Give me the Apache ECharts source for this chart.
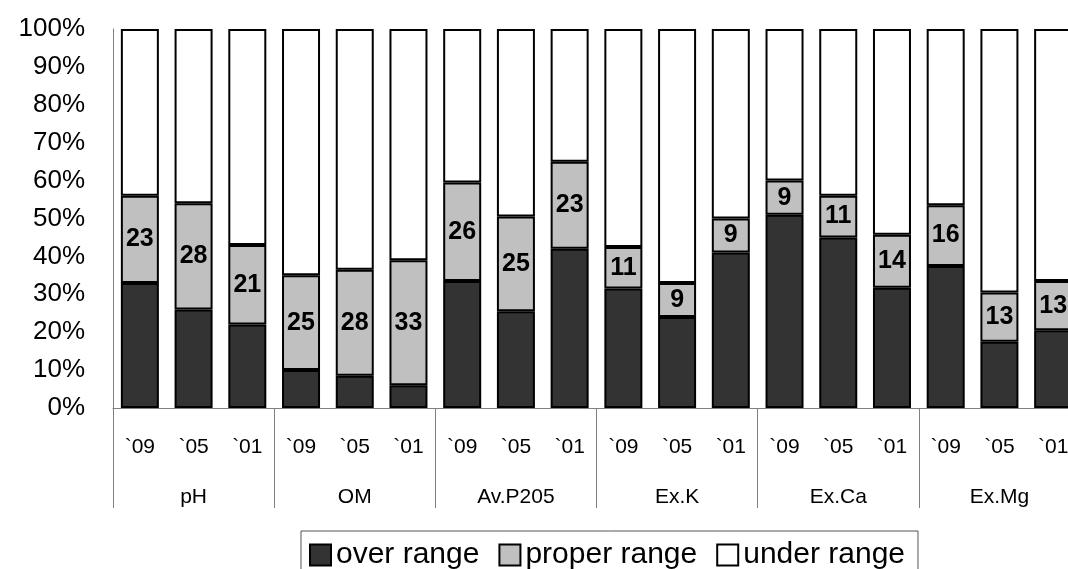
<!DOCTYPE html>
<html>
<head>
<meta charset="utf-8">
<script src="https://cdn.jsdelivr.net/npm/echarts@6/dist/echarts.min.js"></script>
<style>
  html, body { margin: 0; padding: 0; background: #fff; }
  #chart { width: 1068px; height: 569px; }
</style>
</head>
<body>
<div id="chart"></div>
<script>
// Soil property groups and survey years (three bars per group)
const groups = ['pH', 'OM', 'Av.P205', 'Ex.K', 'Ex.Ca', 'Ex.Mg'];
const years = ['`09', '`05', '`01'];

// Share of samples (%) in each range, one value per bar, group by group
const overRange   = [33, 26, 22, 10, 8.5, 6, 33.5, 25.5, 42, 31.5, 24, 41, 51, 45, 31.7, 37.5, 17.5, 20.5];
const properRange = [23, 28, 21, 25, 28, 33, 26, 25, 23, 11, 9, 9, 9, 11, 14, 16, 13, 13];
const underRange  = [44, 46, 57, 65, 63.5, 61, 40.5, 49.5, 35, 57.5, 67, 50, 40, 44, 54.3, 46.5, 69.5, 66.5];

const yTicks = [0, 10, 20, 30, 40, 50, 60, 70, 80, 90, 100];

// One category per bar: the year labels repeat for every group
const barLabels = [];
groups.forEach(() => years.forEach(y => barLabels.push(y)));

const FONT = 'Liberation Sans';
const axisGray = '#808080';

const chart = echarts.init(document.getElementById('chart'), null, { renderer: 'canvas' });

const barStyle = color => ({ color: color, borderColor: '#000', borderWidth: 2 });

chart.setOption({
  animation: false,
  backgroundColor: '#fff',
  // the last group runs slightly past the right edge of the canvas
  grid: { left: 113, top: 29, width: 967, height: 379, containLabel: false, outerBoundsMode: 'none' },
  legend: {
    left: 301,
    top: 531,
    orient: 'horizontal',
    icon: 'rect',
    itemWidth: 21,
    itemHeight: 21,
    itemGap: 19,
    padding: [9, 13, 5, 8],
    borderColor: '#555',
    borderWidth: 1,
    itemStyle: { borderColor: '#000', borderWidth: 2 },
    textStyle: { fontFamily: FONT, fontSize: 30, lineHeight: 26, color: '#000' },
    data: ['over range', 'proper range', 'under range']
  },
  xAxis: [
    {
      type: 'category',
      data: barLabels,
      axisLine: { show: true, lineStyle: { color: axisGray, width: 1 } },
      axisTick: { show: false },
      axisLabel: { interval: 0, margin: 29, fontFamily: FONT, fontSize: 21, color: '#000' },
      splitLine: { show: false }
    },
    {
      type: 'category',
      position: 'bottom',
      data: groups,
      axisLine: { show: false },
      axisTick: { show: true, length: 100, lineStyle: { color: axisGray, width: 1 } },
      axisLabel: { interval: 0, margin: 79, fontFamily: FONT, fontSize: 21, color: '#000' },
      splitLine: { show: false }
    }
  ],
  yAxis: {
    type: 'value',
    min: yTicks[0],
    max: yTicks[yTicks.length - 1],
    interval: 10,
    axisLine: { show: true, lineStyle: { color: axisGray, width: 1 } },
    axisTick: { show: false },
    splitLine: { show: false },
    axisLabel: {
      margin: 28,
      fontFamily: FONT,
      fontSize: 26,
      color: '#000',
      formatter: v => v + '%'
    }
  },
  series: [
    {
      name: 'over range',
      type: 'bar',
      stack: 'share',
      barWidth: 38,
      xAxisIndex: 0,
      itemStyle: barStyle('#333333'),
      data: overRange
    },
    {
      name: 'proper range',
      type: 'bar',
      stack: 'share',
      barWidth: 38,
      xAxisIndex: 0,
      itemStyle: barStyle('#c0c0c0'),
      label: {
        show: true,
        position: 'inside',
        fontFamily: FONT,
        fontWeight: 'bold',
        fontSize: 25,
        color: '#000'
      },
      data: properRange
    },
    {
      name: 'under range',
      type: 'bar',
      stack: 'share',
      barWidth: 38,
      xAxisIndex: 0,
      itemStyle: barStyle('#ffffff'),
      data: underRange
    }
  ]
});
</script>
</body>
</html>
